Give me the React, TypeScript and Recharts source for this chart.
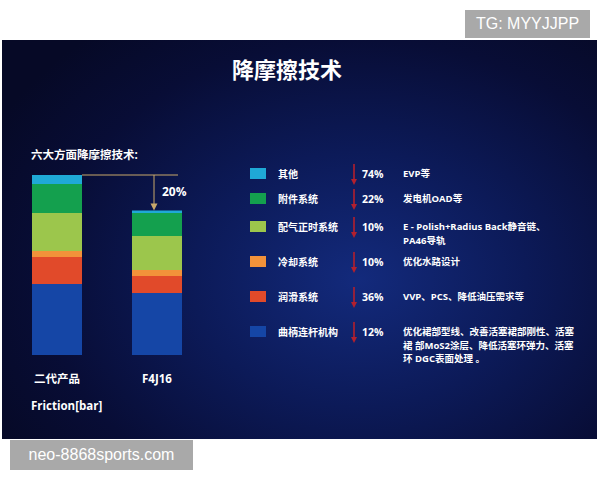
import { BarChart, Bar, XAxis, YAxis, ReferenceLine } from 'recharts';

const products = ['二代产品', 'F4J16'];
const systems = ['曲柄连杆机构', '润滑系统', '冷却系统', '配气正时系统', '附件系统', '其他'];
const colors = ['#1546a6', '#e14a2a', '#f2923a', '#9cc64c', '#14a04e', '#1fa9d6'];
const gen2Values = [71, 27, 6, 38, 29, 9];
const f4j16Values = [62, 17, 6, 34, 23, 2.5];
const reductions = ['12%', '36%', '10%', '10%', '22%', '74%'];
const measures = [
  ['优化裙部型线、改善活塞裙部刚性、活塞', '裙 部MoS2涂层、降低活塞环弹力、活塞', '环 DGC表面处理 。'],
  ['VVP、PCS、降低油压需求等'],
  ['优化水路设计'],
  ['E - Polish+Radius Back静音链、', 'PA46导轨'],
  ['发电机OAD等'],
  ['EVP等'],
];
const totalDrop = '20%';

const seriesKeys = systems.map((_, i) => `s${i}`);
const chartData = products.map((name, p) => {
  const vals = p === 0 ? gen2Values : f4j16Values;
  const row: Record<string, string | number> = { name };
  vals.forEach((v, i) => (row[seriesKeys[i]] = v));
  return row;
});
const gen2Total = gen2Values.reduce((a, b) => a + b, 0);
const f4j16Total = f4j16Values.reduce((a, b) => a + b, 0);

// legend row centers, same order as systems
const legendY = [332, 297, 262, 227, 199, 174];

const FONT = "'Open Sans', 'Noto Sans CJK SC', sans-serif";
const LINE = '#c9a96b';

export default function App() {
  return (
    <div style={{ position: 'absolute', left: 0, top: 0, width: 600, height: 480, background: '#fff', fontFamily: FONT }}>
      <div
        style={{
          position: 'absolute',
          left: 2,
          top: 40,
          width: 595,
          height: 399,
          background:
            'radial-gradient(ellipse 70% 80% at 60% 60%, #132a7c 0%, #0c1a58 40%, #080d36 75%, #060926 100%)',
        }}
      />
      <div style={{ position: 'absolute', left: 465, top: 10, width: 125, height: 28, background: '#a9a9a9', color: '#fff', fontFamily: "'Liberation Sans', sans-serif", fontSize: 16, lineHeight: '28px', textAlign: 'center' }}>
        TG: MYYJJPP
      </div>
      <div style={{ position: 'absolute', left: 10, top: 440, width: 183, height: 30, background: '#a9a9a9', color: '#fff', fontFamily: "'Liberation Sans', sans-serif", fontSize: 16, lineHeight: '30px', textAlign: 'center' }}>
        neo-8868sports.com
      </div>

      <div style={{ position: 'absolute', left: 0, top: 56, width: 574, textAlign: 'center', color: '#fff', fontSize: 22, fontWeight: 700, lineHeight: '24px', fontFamily: "'Noto Sans CJK SC', sans-serif" }}>
        降摩擦技术
      </div>
      <div style={{ position: 'absolute', left: 31, top: 147, color: '#fff', fontSize: 11.5, fontWeight: 700, lineHeight: '16px' }}>
        六大方面降摩擦技术:
      </div>
      <div style={{ position: 'absolute', left: 31, top: 398, color: '#fff', fontSize: 11.5, fontWeight: 700, lineHeight: '16px' }}>
        Friction[bar]
      </div>
      <div style={{ position: 'absolute', left: 162, top: 184, color: '#fff', fontSize: 12, fontWeight: 700, lineHeight: '16px' }}>
        {totalDrop}
      </div>

      <div style={{ position: 'absolute', left: 0, top: 150 }}>
        <BarChart width={230} height={250} data={chartData} margin={{ top: 25, right: 23, bottom: 15, left: 7 }} barCategoryGap="25%">
          <XAxis
            dataKey="name"
            axisLine={false}
            tickLine={false}
            height={30}
            tickMargin={14}
            tick={{ fill: '#fff', fontSize: 11.5, fontWeight: 700, fontFamily: FONT }}
            interval={0}
          />
          <YAxis hide domain={[0, gen2Total]} />
          {seriesKeys.map((k, i) => (
            <Bar key={k} dataKey={k} stackId="a" fill={colors[i]} isAnimationActive={false} />
          ))}
          <ReferenceLine
            y={gen2Total}
            shape={(p: any) => {
              const band = (p.x2 - p.x1) / 2;
              return <line x1={p.x1 + band * 0.75} x2={p.x1 + band * 1.71} y1={p.y1} y2={p.y2} stroke={LINE} strokeWidth={1} />;
            }}
          />
          <ReferenceLine
            segment={[
              { x: products[1], y: gen2Total },
              { x: products[1], y: f4j16Total },
            ]}
            shape={(p: any) => {
              const x = p.x1 - 3;
              const yEnd = Math.max(p.y1, p.y2);
              const yStart = Math.min(p.y1, p.y2);
              return (
                <g>
                  <line x1={x} x2={x} y1={yStart} y2={yEnd - 4} stroke={LINE} strokeWidth={1} />
                  <path d={`M${x - 3.5},${yEnd - 7} L${x + 3.5},${yEnd - 7} L${x},${yEnd} Z`} fill={LINE} />
                </g>
              );
            }}
          />
        </BarChart>
      </div>

      {systems.map((s, i) => {
        const cy = legendY[i];
        return (
          <div key={s}>
            <div style={{ position: 'absolute', left: 250, top: cy - 6, width: 16, height: 11, background: colors[i] }} />
            <div style={{ position: 'absolute', left: 278, top: cy - 7, color: '#fff', fontSize: 10, fontWeight: 700, lineHeight: '14px', fontFamily: "'Noto Sans CJK SC', sans-serif" }}>
              {s}
            </div>
            <svg style={{ position: 'absolute', left: 349, top: cy - 10 }} width={10} height={22}>
              <line x1={5} x2={5} y1={0} y2={18} stroke="#b3202e" strokeWidth={1.6} />
              <path d="M2,15 L8,15 L5,21 Z" fill="#b3202e" />
            </svg>
            <div style={{ position: 'absolute', left: 362, top: cy - 7, color: '#fff', fontSize: 10.5, fontWeight: 700, lineHeight: '14px' }}>
              {reductions[i]}
            </div>
            <div style={{ position: 'absolute', left: 403, top: cy - 7, color: '#fff', fontSize: 9.5, fontWeight: 700, lineHeight: '13.5px', whiteSpace: 'nowrap' }}>
              {measures[i].map((l, j) => (
                <div key={j}>{l}</div>
              ))}
            </div>
          </div>
        );
      })}
    </div>
  );
}
